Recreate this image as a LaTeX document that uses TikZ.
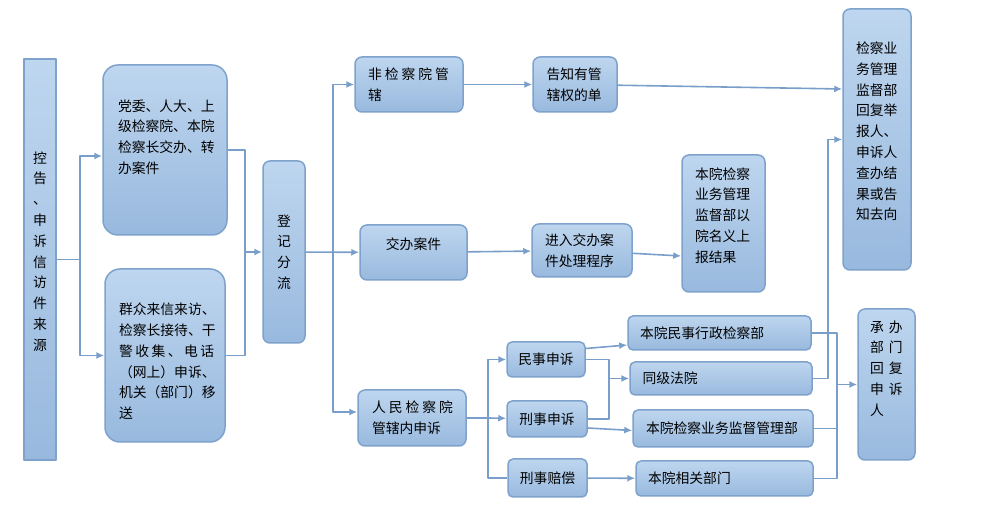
\documentclass[tikz,border=0pt]{standalone}
\usepackage{fontspec}
\usetikzlibrary{arrows.meta}
\newfontfamily\cjk{Noto Sans CJK SC}
\definecolor{boxtop}{RGB}{190,214,239}
\definecolor{boxbot}{RGB}{152,185,222}
\definecolor{boxline}{RGB}{126,162,204}
\definecolor{wire}{RGB}{122,158,202}
\newcommand\boxfont{\cjk\fontsize{13.8bp}{20.8bp}\selectfont}
\tikzset{
  box/.style={draw=boxline,line width=1.5bp,top color=boxtop,bottom color=boxbot,
    rounded corners=7bp,inner sep=0pt,font=\boxfont,align=left},
  txt/.style={font=\boxfont,align=left,inner sep=0pt},
  wire/.style={draw=wire,line width=1.6bp},
}
\begin{document}
\begin{tikzpicture}[>={Latex[length=8bp,width=7bp]},line join=bevel,]
\useasboundingbox (0,0) rectangle (984bp,514bp);
%%
\node (node_0) at (40bp,254.5bp) [box,sharp corners,minimum width=32bp,minimum height=401bp,label={[txt,align=center,yshift=8bp]center:{控\\告\\、\\申\\诉\\信\\访\\件\\来\\源}}] {};
  \node (node_1) at (165bp,364bp) [box,rounded corners=15bp,minimum width=124bp,minimum height=170bp,label={[txt,text width=94bp,yshift=13bp]center:{党委、人大、上\\级检察院、本院\\检察长交办、转\\办案件}}] {};
  \node (node_2) at (165bp,158.5bp) [box,rounded corners=15bp,minimum width=120bp,minimum height=173bp,label={[txt,text width=92bp,yshift=-6bp]center:{群众来信来访、\\检察长接待、干\\警\kern2.5bp 收\kern2.5bp 集\kern2.5bp 、\kern2.5bp 电\kern2.5bp 话\\（网上）申诉、\\机关（部门）移\\送}}] {};
  \node (node_3) at (284bp,262bp) [box,align=center,minimum width=42bp,minimum height=182bp] {登\\记\\分\\流};
%
\node (node_4) at (409bp,429.5bp) [box,minimum width=108bp,minimum height=55bp,text width=82bp] {非\kern3bp 检\kern3bp 察\kern3bp 院\kern3bp 管\\辖};
  \node (node_5) at (413.5bp,261.5bp) [box,minimum width=107bp,minimum height=55bp,label={[txt,yshift=8bp]center:{交办案件}}] {};
  \node (node_6) at (412bp,96bp) [box,minimum width=108bp,minimum height=56bp,text width=80bp] {人\kern3bp 民\kern3bp 检\kern3bp 察\kern3bp 院\\管辖内申诉};
  \node (node_7) at (575bp,429.5bp) [box,minimum width=84bp,minimum height=55bp,text width=57bp] {告知有管\\辖权的单};
  \node (node_8) at (582bp,263.5bp) [box,minimum width=100bp,minimum height=53bp,text width=74bp] {进入交办案\\件处理程序};
  \node (node_9) at (723.5bp,290.5bp) [box,minimum width=83bp,minimum height=137bp,label={[txt,text width=57bp,yshift=8bp]center:{本院检察\\业务管理\\监督部以\\院名义上\\报结果}}] {};
  \node (node_10) at (877bp,374.5bp) [box,minimum width=68bp,minimum height=261bp,label={[txt,text width=42bp,yshift=8bp]center:{检察业\\务管理\\监督部\\回复举\\报人、\\申诉人\\查办结\\果或告\\知去向}}] {};
%
\node (node_11) at (546bp,154.5bp) [box,rounded corners=5bp,minimum width=78bp,minimum height=35bp] {民事申诉};
  \node (node_12) at (547bp,95bp) [box,rounded corners=5bp,minimum width=80bp,minimum height=36bp] {刑事申诉};
  \node (node_13) at (547.5bp,36bp) [box,rounded corners=5bp,minimum width=79bp,minimum height=38bp] {刑事赔偿};
  \node (node_14) at (719.5bp,181bp) [box,rounded corners=5bp,minimum width=183bp,minimum height=34bp,text width=159bp] {本院民事行政检察部};
  \node (node_15) at (721bp,135.5bp) [box,rounded corners=5bp,minimum width=182bp,minimum height=33bp,text width=157bp] {同级法院};
  \node (node_16) at (723bp,85.5bp) [box,rounded corners=5bp,minimum width=180bp,minimum height=37bp,text width=154bp] {本院检察业务监督管理部};
  \node (node_17) at (724.5bp,35.5bp) [box,rounded corners=5bp,minimum width=177bp,minimum height=35bp,text width=153bp] {本院相关部门};
  \node (node_18) at (886.5bp,129.5bp) [box,minimum width=57bp,minimum height=151bp,label={[txt,text width=33bp,yshift=16bp]center:{承\kern5bp 办\\部\kern5bp 门\\回\kern5bp 复\\申\kern5bp 诉\\人}}] {};
%%
\coordinate (fork_0) at (80bp,254.5bp);
  \coordinate (fork_1) at (245bp,262bp);
  \coordinate (fork_2) at (333bp,262bp);
  \coordinate (fork_3) at (488bp,96bp);
  \coordinate (fork_4) at (609bp,135.5bp);
  \coordinate (fork_5) at (837bp,129.5bp);
  \coordinate (fork_6) at (828bp,374.5bp);
%
\draw [wire] (node_0) -- (fork_0);
  \draw [wire,->] (fork_0) |- ([yshift=-6bp]node_1.west);
  \draw [wire,->] (fork_0) |- (node_2.west);
  \draw [wire] (node_1) -| (fork_1);
  \draw [wire] (node_2) -| (fork_1);
  \draw [wire,->] (fork_1) -- (node_3);
  \draw [wire,->] (node_3) -- (node_5);
  \draw [wire,->] (fork_2) |- (node_4);
  \draw [wire,->] (fork_2) |- ([yshift=6bp]node_6.west);
  \draw [wire,->] (node_4) -- (node_7);
  \draw [wire,->] (node_7) -- (node_10.west |- 0,425bp);
  \draw [wire,->] (node_5) -- (node_8);
  \draw [wire,->] (node_8) -- (node_9.west |- 0,258bp);
%
\draw [wire] (node_6) -- (fork_3);
  \draw [wire,->] (fork_3) |- (node_11);
  \draw [wire,->] (fork_3) -- (node_12);
  \draw [wire] (fork_3) |- (node_13);
  \draw [wire,->] ([yshift=11bp]node_11.east) -- ([yshift=-12bp]node_14.west);
  \draw [wire] (node_11) -| (fork_4);
  \draw [wire] (node_12) -| (fork_4);
  \draw [wire,->] (fork_4) -- (node_15);
  \draw [wire,->] ([yshift=-9bp]node_12.east) -- ([yshift=-2bp]node_16.west);
  \draw [wire,->] (node_13) -- (node_17);
  \draw [wire] (node_14) -| (fork_5);
  \draw [wire] (node_16) -| (fork_5);
  \draw [wire] (node_17) -| (fork_5);
  \draw [wire,->] (fork_5) -- (node_18);
  \draw [wire,->] (node_15) -| (fork_6) -- (node_10);
%
\end{tikzpicture}
\end{document}
